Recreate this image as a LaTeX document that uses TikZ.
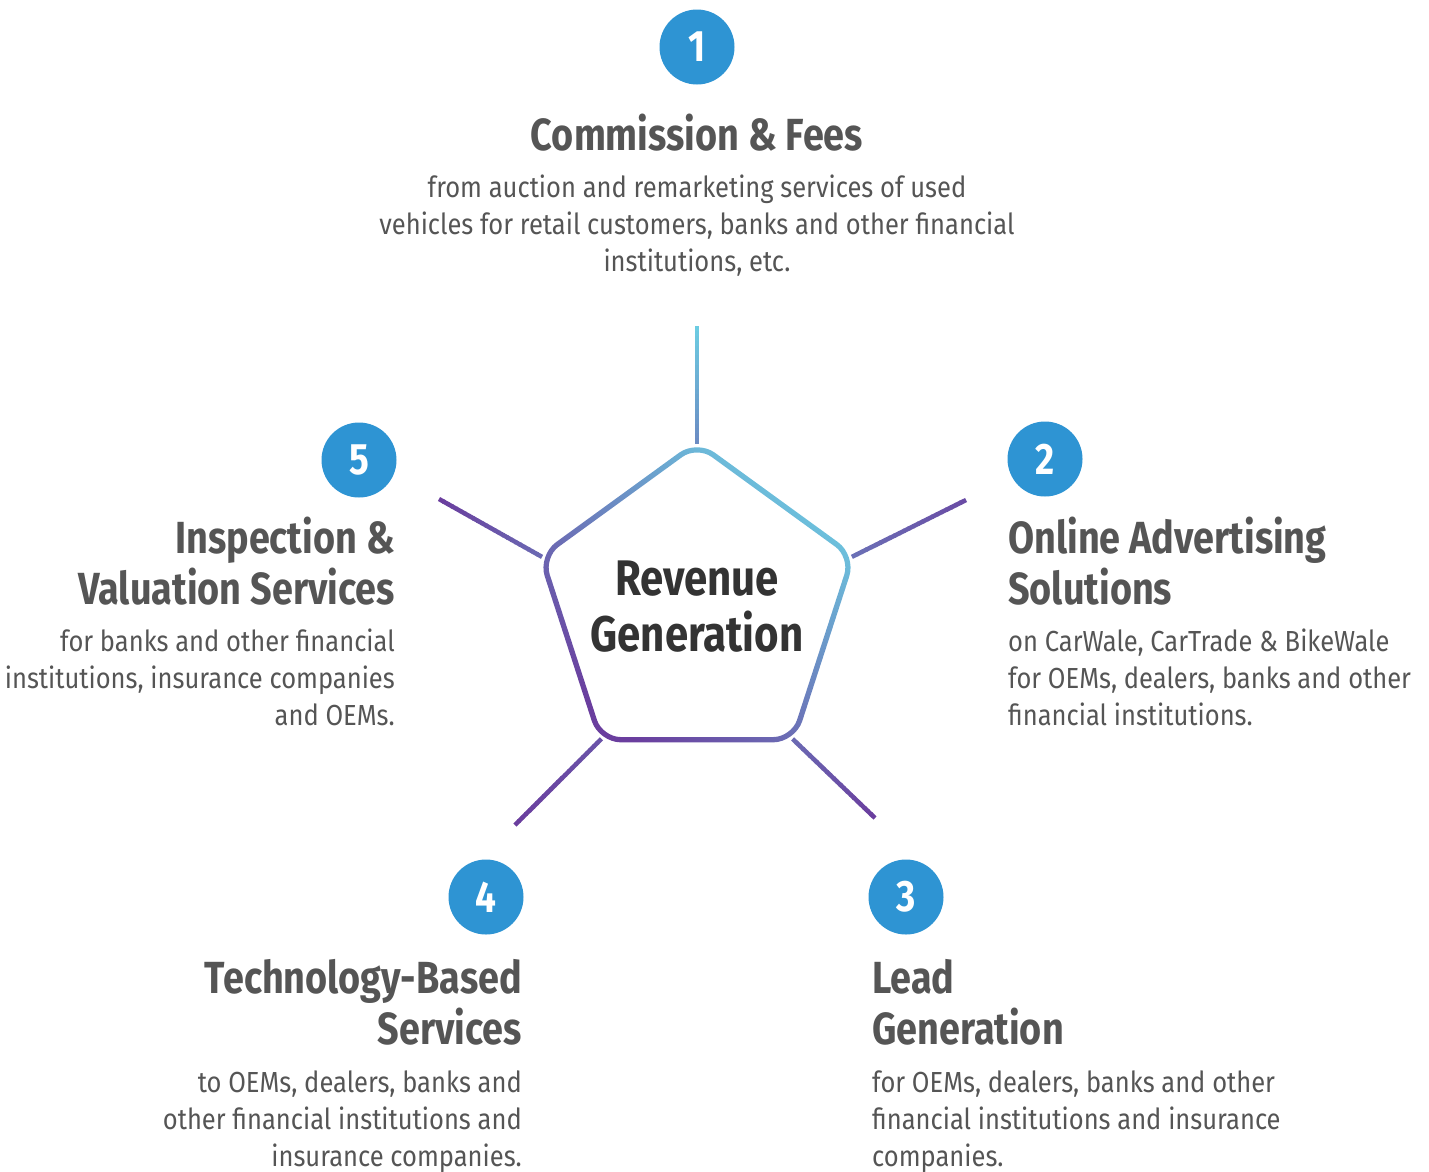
\documentclass[tikz,border=0pt]{standalone}
\usepackage{fontspec}
\setmainfont{Fira Sans}[FakeStretch=0.84]
\newfontfamily\bodyfont{Fira Sans}[FakeStretch=0.88]
\usetikzlibrary{calc}
\definecolor{txt}{HTML}{555555}
\definecolor{dark}{HTML}{333333}
\definecolor{numblue}{HTML}{2E94D3}
\definecolor{cyanc}{HTML}{6CCCE2}
\definecolor{purp}{HTML}{6A3E9E}
\colorlet{sA}{cyanc!55!purp}
\colorlet{sB}{purp!90!cyanc}
\colorlet{sC}{purp!65!cyanc}
\colorlet{sD}{purp!70!cyanc}
\colorlet{sE}{purp!85!cyanc}
\tikzset{
  numc/.style={circle,fill=numblue,minimum size=75pt,inner sep=0pt,text=white,font=\fontsize{44}{44}\selectfont\bfseries},
  ttl/.style={inner sep=0pt,text=txt,font=\fontsize{45}{51}\selectfont\bfseries},
  bdy/.style={inner sep=0pt,text=txt,font=\bodyfont\fontsize{29}{37}\selectfont},
}
\newcommand{\gradseg}[4]{%
  \foreach \i in {0,...,23}{%
    \pgfmathsetmacro{\pc}{100-100*\i/23}
    \draw[line width=4.5pt,color=#4!\pc!#3] ($(#1)!\i/24!(#2)$) -- ($(#1)!\i/24+1/24+0.01!(#2)$);
  }}
\begin{document}
\begin{tikzpicture}[x=1pt,y=-1pt]
\useasboundingbox (0,0) rectangle (1429,1171);
% pentagon vertices
\coordinate (v1) at (697,443);
\coordinate (v2) at ({697+164*sin(72)},{607-164*cos(72)});
\coordinate (v3) at ({697+164*sin(144)},{607-164*cos(144)});
\coordinate (v4) at ({697-164*sin(144)},{607-164*cos(144)});
\coordinate (v5) at ({697-164*sin(72)},{607-164*cos(72)});
% spoke ends
\coordinate (e1) at (697,326);
\coordinate (e2) at (966,500);
\coordinate (e3) at (875,818);
\coordinate (e4) at (515,825);
\coordinate (e5) at (439,499);
% \gradseg{from}{to}{colour at to}{colour at from}
\gradseg{e1}{v1}{sA}{cyanc}
\gradseg{e2}{v2}{sC}{sB}
\gradseg{e3}{v3}{sD}{purp}
\gradseg{e4}{v4}{sE}{purp}
\gradseg{e5}{v5}{sD}{purp}
% pentagon ring
\shade[top color=cyanc,bottom color=purp,shading angle=-40,even odd rule]
  [rounded corners=22]
  ({697+167.3*sin(0)},{607-167.3*cos(0)}) --
  ({697+167.3*sin(72)},{607-167.3*cos(72)}) --
  ({697+167.3*sin(144)},{607-167.3*cos(144)}) --
  ({697+167.3*sin(216)},{607-167.3*cos(216)}) --
  ({697+167.3*sin(288)},{607-167.3*cos(288)}) -- cycle
  [rounded corners=18]
  ({697+160.7*sin(0)},{607-160.7*cos(0)}) --
  ({697+160.7*sin(72)},{607-160.7*cos(72)}) --
  ({697+160.7*sin(144)},{607-160.7*cos(144)}) --
  ({697+160.7*sin(216)},{607-160.7*cos(216)}) --
  ({697+160.7*sin(288)},{607-160.7*cos(288)}) -- cycle;
\node[inner sep=0pt,text=dark,align=center,font=\fontsize{50}{56}\selectfont\bfseries,anchor=base] (ctr) at (697,651) {Revenue\\Generation};
% number circles
\node[numc] (n1) at (697,47) {1};
\node[numc] (n2) at (1045,459) {2};
\node[numc] (n3) at (906,897) {3};
\node[numc] (n4) at (486,897) {4};
\node[numc] (n5) at (359,460) {5};
% 1
\node[ttl,anchor=base] (t1) at (697,150) {Commission \& Fees};
\node[bdy,anchor=base,align=center] (b1) at (697,271) {from auction and remarketing services of used\\vehicles for retail customers, banks and other financial\\institutions, etc.};
% 2
\node[ttl,anchor=base west,align=left] (t2) at (1008,604) {Online Advertising\\Solutions};
\node[bdy,anchor=base west,align=left] (b2) at (1008,725) {on CarWale, CarTrade \& BikeWale\\for OEMs, dealers, banks and other\\financial institutions.};
% 3
\node[ttl,anchor=base west,align=left] (t3) at (872,1044) {Lead\\Generation};
\node[bdy,anchor=base west,align=left] (b3) at (872,1166) {for OEMs, dealers, banks and other\\financial institutions and insurance\\companies.};
% 4
\node[ttl,anchor=base east,align=right] (t4) at (522,1044) {Technology-Based\\Services};
\node[bdy,anchor=base east,align=right] (b4) at (522,1166) {to OEMs, dealers, banks and\\other financial institutions and\\insurance companies.};
% 5
\node[ttl,anchor=base east,align=right] (t5) at (395,604) {Inspection \&\\Valuation Services};
\node[bdy,anchor=base east,align=right] (b5) at (395,725) {for banks and other financial\\institutions, insurance companies\\and OEMs.};
\end{tikzpicture}
\end{document}
